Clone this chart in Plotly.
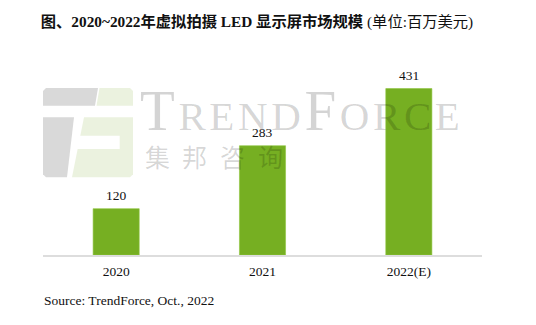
import plotly.graph_objects as go

categories = ["2020", "2021", "2022(E)"]
values = [120, 283, 431]
value_labels = ["120", "283", "431"]

title_html = ("<b>图、2020~2022年虚拟拍摄 LED 显示屏市场规模</b> (单位:百万美元)")
source_text = "Source: TrendForce, Oct., 2022"

W, H = 536, 325
ML, MR, MT, MB = 43, 54, 60, 70
PW, PH = W - ML - MR, H - MT - MB

SERIF = "Liberation Serif, Times New Roman, Noto Sans CJK SC, serif"
CJK = "Noto Sans CJK SC, Liberation Serif, serif"


def px(x):
    return (x - ML) / PW


def py(y):
    return (H - MB - y) / PH


def path(pts):
    s = "M " + " L ".join(f"{px(x):.5f},{py(y):.5f}" for x, y in pts) + " Z"
    return s


fig = go.Figure()
fig.add_trace(go.Bar(
    x=categories, y=values,
    marker=dict(color="#76AF22", line=dict(color="#8DC43C", width=0.6)),
    width=0.315,
    hoverinfo="skip",
))

shapes = []
gray = "#D9D9D9"
green = "#EBF2DF"
# logo (watermark)
shapes.append(dict(type="path", xref="paper", yref="paper", layer="below",
                   path=path([(46, 88), (98, 88), (95, 105.7), (43, 105.7), (43, 91)]),
                   fillcolor=gray, line=dict(width=0)))
shapes.append(dict(type="path", xref="paper", yref="paper", layer="below",
                   path=path([(99.5, 88), (130, 88), (133, 91), (133, 105.7), (96.5, 105.7)]),
                   fillcolor=green, line=dict(width=0)))
shapes.append(dict(type="path", xref="paper", yref="paper", layer="below",
                   path=path([(43, 117.3), (74, 117.3), (67, 177.3), (46, 177.3), (43, 174.3)]),
                   fillcolor=gray, line=dict(width=0)))
shapes.append(dict(type="path", xref="paper", yref="paper", layer="below",
                   path=path([(84, 117.3), (133, 117.3), (133, 174.3), (130, 177.3), (72, 177.3)]),
                   fillcolor=green, line=dict(width=0)))
shapes.append(dict(type="rect", xref="paper", yref="paper", layer="below",
                   x0=px(76), x1=px(119.7), y0=py(149), y1=py(135.7),
                   fillcolor="white", line=dict(width=0)))

annotations = []
for i, (v, t) in enumerate(zip(values, value_labels)):
    annotations.append(dict(x=i, y=v, xref="x", yref="y", text=t, showarrow=False,
                            yanchor="bottom", yshift=4,
                            font=dict(family=SERIF, size=13.5, color="#111111")))

wm_color = "rgba(0,0,0,0.17)"
annotations.append(dict(
    xref="paper", yref="paper", x=px(138), y=py(110), xanchor="left", yanchor="middle",
    text=("<span style='letter-spacing:3.6px'>T<span style='font-size:41px'>REND</span>"
          "F<span style='font-size:41px'>ORCE</span></span>"),
    showarrow=False, font=dict(family=SERIF, size=57, color=wm_color)))
for ch, cx in zip("集邦咨询", [157, 194.7, 232.4, 270]):
    annotations.append(dict(xref="paper", yref="paper", x=px(cx), y=py(156),
                            xanchor="center", yanchor="middle", text=ch, showarrow=False,
                            font=dict(family=CJK, size=25, color=wm_color)))

annotations.append(dict(xref="paper", yref="paper", x=px(42), y=py(300),
                        xanchor="left", yanchor="middle", text=source_text, showarrow=False,
                        font=dict(family=SERIF, size=13.5, color="#111111")))

fig.update_layout(
    width=W, height=H,
    margin=dict(l=ML, r=MR, t=MT, b=MB),
    paper_bgcolor="white", plot_bgcolor="white",
    showlegend=False,
    title=dict(text=title_html, x=257 / W, xanchor="center", xref="container",
               y=1 - 22 / H, yanchor="middle",
               font=dict(family=SERIF, size=15.3, color="#111111")),
    xaxis=dict(type="category", showgrid=False, zeroline=False, showline=True,
               linecolor="#DDDDDD", linewidth=1.6,
               ticks="", ticklabelstandoff=3,
               tickfont=dict(family=SERIF, size=13.5, color="#111111"),
               range=[-0.5, 2.5], fixedrange=True),
    yaxis=dict(visible=False, range=[0, 505], fixedrange=True),
    shapes=shapes,
    annotations=annotations,
)

fig.write_html("out.html", config={"displayModeBar": False})
